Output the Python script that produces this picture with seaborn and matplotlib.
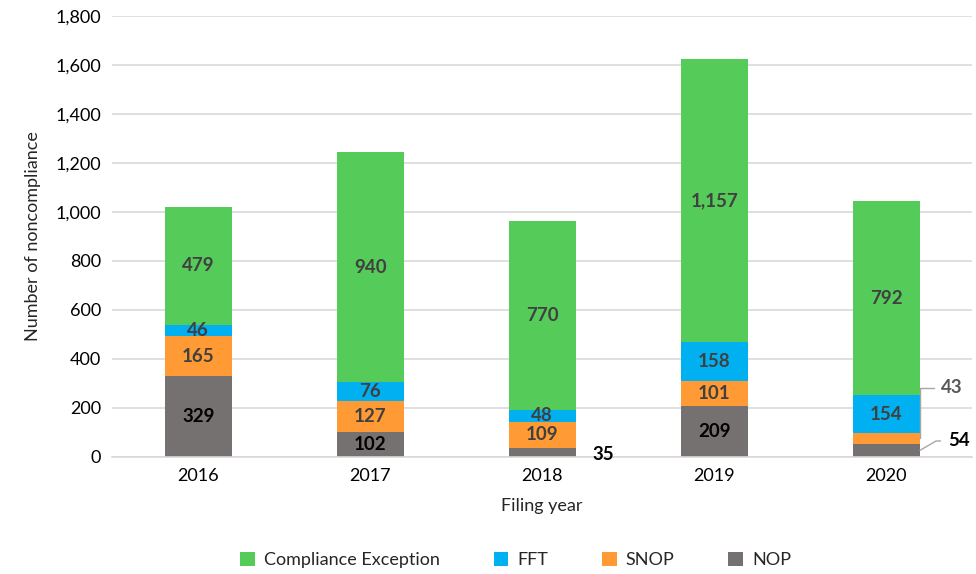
import numpy as np
import pandas as pd
import seaborn as sns
import matplotlib.pyplot as plt

years = ["2016", "2017", "2018", "2019", "2020"]
nop = [329, 102, 35, 209, 54]
snop = [165, 127, 109, 101, 43]
fft = [46, 76, 48, 158, 154]
comp_exc = [479, 940, 770, 1157, 792]

series = ["NOP", "SNOP", "FFT", "Compliance Exception"]
values = [nop, snop, fft, comp_exc]
colors = ["#767171", "#FF9A35", "#00B0F0", "#55CC5A"]

sns.set_style("white")
plt.rcParams["font.family"] = ["Lato", "DejaVu Sans"]

fig = plt.figure(figsize=(9.76, 5.74), dpi=100)
ax = fig.add_axes([0.115, 0.204, 0.881, 0.768])

bottom = np.zeros(len(years))
conts = []
for name, vals, col in zip(series, values, colors):
    sns.barplot(x=years, y=vals, bottom=bottom, color=col, width=0.39,
                label=name, ax=ax, linewidth=0, saturation=1)
    conts.append(ax.containers[-1])
    bottom = bottom + np.array(vals)

# centered labels; small segments are labelled outside the bar
skip = {(0, 2), (0, 4), (1, 4)}
for k, (cont, vals) in enumerate(zip(conts, values)):
    labs = ["" if (k, i) in skip else f"{v:,}" for i, v in enumerate(vals)]
    color = "black" if k == 0 else "#404040"
    ax.bar_label(cont, labels=labs, label_type="center", fontsize=13.5,
                 fontweight="bold", color=color)

ax.text(2.29, nop[2] / 2 - 8, f"{nop[2]}", fontsize=13.5, fontweight="bold",
        color="black", va="center", ha="left")
ax.annotate(f"{snop[4]}", xy=(4.197, nop[4] + snop[4] / 2),
            xytext=(4.32, 282), fontsize=13.5, fontweight="bold",
            color="#595959", va="center", ha="left",
            arrowprops=dict(arrowstyle="-", color="#A6A6A6", lw=1,
                            shrinkA=3, shrinkB=0,
                            connectionstyle="angle,angleA=0,angleB=90,rad=0"))
ax.annotate(f"{nop[4]}", xy=(4.197, nop[4] / 2),
            xytext=(4.36, 65), fontsize=13.5, fontweight="bold",
            color="black", va="center", ha="left",
            arrowprops=dict(arrowstyle="-", color="#A6A6A6", lw=1,
                            shrinkA=3, shrinkB=0,
                            connectionstyle="angle,angleA=0,angleB=30,rad=0"))

ax.set_ylim(0, 1800)
ax.set_xlim(-0.5, 4.5)
ax.set_yticks(range(0, 1801, 200))
ax.yaxis.set_major_formatter(plt.FuncFormatter(lambda v, p: f"{int(v):,}"))
ax.grid(axis="y", color="#D9D9D9", lw=1.2)
ax.set_axisbelow(True)
for s in ["top", "right", "left"]:
    ax.spines[s].set_visible(False)
ax.spines["bottom"].set_color("#D9D9D9")
ax.spines["bottom"].set_linewidth(1.2)
ax.tick_params(axis="both", length=0, labelsize=13, labelcolor="black", pad=8)
ax.set_xlabel("Filing year", fontsize=13, labelpad=10)
ax.set_ylabel("Number of noncompliance", fontsize=13, labelpad=10)

handles, labels = ax.get_legend_handles_labels()
order = [3, 2, 1, 0]
ax.legend([handles[i] for i in order], [labels[i] for i in order],
          loc="center", bbox_to_anchor=(0.469, -0.234), ncol=4,
          frameon=False, fontsize=13, handlelength=0.8, handleheight=0.8,
          columnspacing=3.0, handletextpad=0.5)

fig.savefig("out.png", dpi=100)
